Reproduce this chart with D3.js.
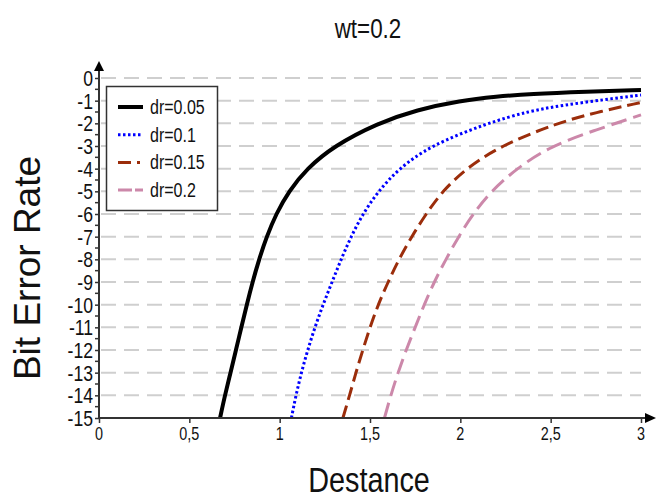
<!DOCTYPE html>
<html>
<head>
<meta charset="utf-8">
<script src="https://cdn.jsdelivr.net/npm/d3@7"></script>
<style>
  body { margin: 0; background: #fff; }
  text { font-family: "Liberation Sans", Arial, sans-serif; }
</style>
</head>
<body>
<div id="chart"></div>
<script>
// Data: [distance, bit error rate]
var dr005 = [[0.67,-15],[0.697,-14],[0.728,-13],[0.758,-12],[0.788,-11],[0.818,-10],[0.85,-9],[0.886,-8],[0.928,-7],[0.98,-6],[1.05,-5],[1.15,-4],[1.30,-3],[1.54,-2],[1.76,-1.4],[2.0,-1.0],[2.2,-0.82],[2.385,-0.7],[2.7,-0.6],[3.0,-0.53]];
var dr01 = [[1.065,-15],[1.09,-14],[1.12,-13],[1.155,-12],[1.195,-11],[1.24,-10],[1.29,-9],[1.34,-8],[1.395,-7],[1.46,-6],[1.545,-5],[1.66,-4],[1.83,-3],[2.145,-2],[2.385,-1.45],[2.57,-1.2],[2.8,-0.95],[3.0,-0.75]];
var dr015 = [[1.35,-15],[1.387,-14],[1.422,-13],[1.46,-12],[1.50,-11],[1.545,-10],[1.60,-9],[1.66,-8],[1.73,-7],[1.81,-6],[1.90,-5],[2.03,-4],[2.22,-3],[2.53,-2],[2.75,-1.52],[3.0,-1.08]];
var dr02 = [[1.58,-15],[1.615,-14],[1.655,-13],[1.70,-12],[1.75,-11],[1.80,-10],[1.855,-9],[1.92,-8],[1.99,-7],[2.07,-6],[2.17,-5],[2.31,-4],[2.50,-3],[2.75,-2.29],[3.0,-1.63]];
var seriesNames = ["dr=0.05", "dr=0.1", "dr=0.15", "dr=0.2"];
var xTicks = [0, 0.5, 1, 1.5, 2, 2.5, 3];
var yTicks = [0,-1,-2,-3,-4,-5,-6,-7,-8,-9,-10,-11,-12,-13,-14,-15];

var svgWidth = 664, svgHeight = 499;
var narrow = 0.8; // the picture's text is squeezed sideways
var svg = d3.select("#chart").append("svg").attr("width", svgWidth).attr("height", svgHeight);

var x = d3.scaleLinear().domain([0, 3]).range([99, 641]);
var y = d3.scaleLinear().domain([-15, 0]).range([418, 78]);

// narrow text helper
narrowText = (parent, tx, ty, size, anchor, label) => {
  return parent.append("g").attr("transform", `translate(${tx}, ${ty}) scale(${narrow}, 1)`)
    .append("text").attr("text-anchor", anchor).style("font-size", size + "px").attr("fill", "#111").text(label);
}

// gridlines
svg.append("g").selectAll("line").data(yTicks.slice(0, 15)).enter().append("line")
  .attr("x1", x(0) + 2).attr("x2", x(3))
  .attr("y1", d => y(d)).attr("y2", d => y(d))
  .attr("stroke", "#cfcfcf").attr("stroke-width", 2)
  .attr("stroke-dasharray", "15,8");

// series
var styles = [
  {color: "#000000", width: 4, dash: null},
  {color: "#0000ff", width: 3, dash: "2.5,2.5"},
  {color: "#9b2d0b", width: 3, dash: "13,6"},
  {color: "#cc88aa", width: 3, dash: "16,7"}
];
var allSeries = [dr005, dr01, dr015, dr02];
var line = d3.line().x(d => x(d[0])).y(d => y(d[1])).curve(d3.curveBasis);

svg.append("g").selectAll("path").data(allSeries).enter().append("path")
  .attr("d", line)
  .attr("fill", "none")
  .attr("stroke", (d, i) => styles[i].color)
  .attr("stroke-width", (d, i) => styles[i].width)
  .attr("stroke-dasharray", (d, i) => styles[i].dash);

// axes
var axisColor = "#333";
var xAxis = svg.append("g").attr("transform", `translate(0, ${y(-15)})`)
  .call(d3.axisBottom(x).tickValues(xTicks).tickSize(5).tickFormat(""));
xAxis.select(".domain").remove();
xAxis.selectAll(".tick line").attr("stroke", axisColor).attr("stroke-width", 1.5);
xTicks.forEach(t => narrowText(svg, x(t), 440, 18, "middle", String(t).replace(".", ",")));

var yMinor = d3.range(-14.5, 0, 1);
var yAxis = svg.append("g").attr("transform", `translate(${x(0)}, 0)`)
  .call(d3.axisLeft(y).tickValues(yTicks).tickSize(4).tickFormat(""));
yAxis.select(".domain").remove();
yAxis.selectAll(".tick line").attr("stroke", axisColor).attr("stroke-width", 1.5);
yAxis.selectAll(".minor").data(yMinor).enter().append("line")
  .attr("x1", -4).attr("x2", 0).attr("y1", d => y(d)).attr("y2", d => y(d))
  .attr("stroke", axisColor).attr("stroke-width", 1.5);
yTicks.forEach(t => narrowText(svg, 93, y(t) + 8, 22, "end", t === 0 ? "0" : "-" + Math.abs(t)));

// axis lines with arrows
svg.append("line").attr("x1", x(0)).attr("x2", 648).attr("y1", y(-15)).attr("y2", y(-15))
  .attr("stroke", axisColor).attr("stroke-width", 2);
svg.append("line").attr("x1", x(0)).attr("x2", x(0)).attr("y1", y(-15)).attr("y2", 68)
  .attr("stroke", axisColor).attr("stroke-width", 2);
svg.append("path").attr("d", `M645,${y(-15) - 5}L656,${y(-15)}L645,${y(-15) + 5}Z`).attr("fill", "#000");
svg.append("path").attr("d", `M${x(0) - 5},71L${x(0)},61L${x(0) + 5},71Z`).attr("fill", "#000");

// legend
var legend = svg.append("g");
legend.append("rect").attr("x", 106.5).attr("y", 86.5).attr("width", 111).attr("height", 124)
  .attr("fill", "#fff").attr("stroke", "#333").attr("stroke-width", 1.5);
seriesNames.forEach((name, i) => {
  var ry = 107 + i * 27.7;
  legend.append("line").attr("x1", 118).attr("x2", 143).attr("y1", ry).attr("y2", ry)
    .attr("stroke", styles[i].color).attr("stroke-width", styles[i].width)
    .attr("stroke-dasharray", i === 2 ? "13,6,3,6" : i === 3 ? "14,3" : styles[i].dash);
  narrowText(legend, 150, ry + 7, 20, "start", name);
});

// titles
narrowText(svg, 368, 38, 28, "middle", "wt=0.2");
narrowText(svg, 369, 492, 36, "middle", "Destance");
svg.append("text").attr("transform", "translate(40, 268) rotate(-90)").attr("text-anchor", "middle")
  .style("font-size", "37px").attr("fill", "#111").text("Bit Error Rate");
</script>
</body>
</html>
